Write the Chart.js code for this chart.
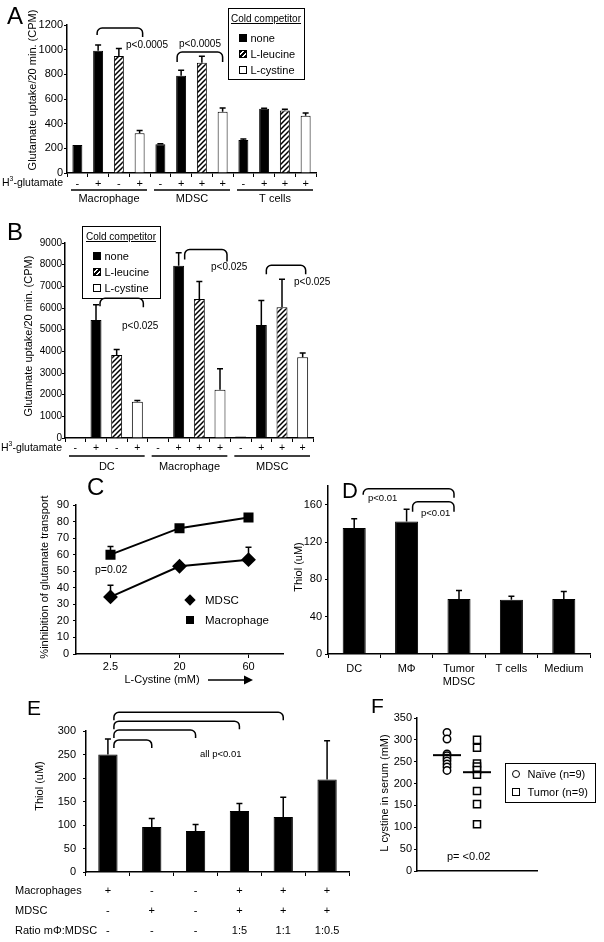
<!DOCTYPE html>
<html>
<head>
<meta charset="utf-8">
<title>Glutamate uptake, thiol release and serum cystine</title>
<script src="https://cdn.jsdelivr.net/npm/chart.js@4.4.1/dist/chart.umd.min.js"></script>
<style>
  body { margin: 0; background: #fff; }
  #page { position: relative; width: 604px; height: 942px; overflow: hidden;
          font-family: "Liberation Sans", Arial, sans-serif; color: #000; }
  #page canvas { position: absolute; }
  .letter { position: absolute; line-height: 1; }
  .box { position: absolute; border: 1.5px solid #000; box-sizing: border-box; }
  .box div, .key div { position: absolute; font-size: 11px; line-height: 12px; white-space: nowrap; }
  .box div.ttl { text-decoration: underline; text-align: center; font-size: 10px; }
  .sw { width: 8px; height: 8px; box-sizing: border-box; border: 1px solid #000; }
  .none { background: #000; }
  .leucine { background: repeating-linear-gradient(135deg, #000 0 1.5px, #fff 1.5px 3.5px); }
  .cystine { background: #fff; }
  .mark { box-sizing: border-box; }
</style>
</head>
<body>
<div id="page">
  <canvas id="chartA" width="320" height="210" style="left:0;top:0"></canvas>
  <canvas id="chartB" width="340" height="270" style="left:0;top:210px"></canvas>
  <canvas id="chartC" width="300" height="225" style="left:0;top:470px"></canvas>
  <canvas id="chartD" width="314" height="225" style="left:290px;top:470px"></canvas>
  <canvas id="chartE" width="360" height="247" style="left:0;top:695px"></canvas>
  <canvas id="chartF" width="244" height="247" style="left:360px;top:695px"></canvas>

  <div class="letter" style="left:7px;top:4px;font-size:24px">A</div>
  <div class="letter" style="left:7px;top:220px;font-size:24px">B</div>
  <div class="letter" style="left:87px;top:475px;font-size:24px">C</div>
  <div class="letter" style="left:342px;top:480px;font-size:22px">D</div>
  <div class="letter" style="left:27px;top:697px;font-size:21px">E</div>
  <div class="letter" style="left:371px;top:695px;font-size:21px">F</div>

  <div class="box" style="left:228px;top:8px;width:77px;height:72px">
    <div class="ttl" style="left:0;top:3.5px;width:74px">Cold competitor</div>
    <div class="sw none" style="left:9.5px;top:24.5px"></div><div style="left:21.5px;top:22.5px">none</div>
    <div class="sw leucine" style="left:9.5px;top:40.5px"></div><div style="left:21.5px;top:38.5px">L-leucine</div>
    <div class="sw cystine" style="left:9.5px;top:56.5px"></div><div style="left:21.5px;top:54.5px">L-cystine</div>
  </div>

  <div class="box" style="left:82px;top:226px;width:79px;height:73px">
    <div class="ttl" style="left:0;top:3.5px;width:76px">Cold competitor</div>
    <div class="sw none" style="left:9.5px;top:24.5px"></div><div style="left:21.5px;top:22.5px">none</div>
    <div class="sw leucine" style="left:9.5px;top:40.5px"></div><div style="left:21.5px;top:38.5px">L-leucine</div>
    <div class="sw cystine" style="left:9.5px;top:56.5px"></div><div style="left:21.5px;top:54.5px">L-cystine</div>
  </div>

  <div class="key">
    <div class="mark" style="left:186px;top:596px;width:8px;height:8px;background:#000;transform:rotate(45deg)"></div>
    <div style="left:205px;top:593px;font-size:11.5px;line-height:14px">MDSC</div>
    <div class="mark" style="left:186px;top:616px;width:8px;height:8px;background:#000"></div>
    <div style="left:205px;top:613px;font-size:11.5px;line-height:14px">Macrophage</div>
  </div>

  <div class="box" style="left:505px;top:763px;width:91px;height:40px">
    <div class="mark" style="left:5.5px;top:5.5px;width:8px;height:8px;border:1.5px solid #000;border-radius:50%"></div>
    <div style="left:21.5px;top:3.5px">Naïve (n=9)</div>
    <div class="mark" style="left:5.5px;top:23.5px;width:8px;height:8px;border:1.5px solid #000"></div>
    <div style="left:21.5px;top:21.5px">Tumor (n=9)</div>
  </div>
</div>

<script>
// ---- data ----
const A_groups = ["Macrophage", "MDSC", "T cells"];
const A_signs = ["-", "+", "-", "+", "-", "+", "+", "+", "-", "+", "+", "+"];
const A_competitor = ["none", "none", "leucine", "cystine", "none", "none", "leucine", "cystine", "none", "none", "leucine", "cystine"];
const A_uptake = [227, 992, 949, 322, 233, 788, 894, 497, 268, 520, 507, 465];
const A_err = [0, 45, 60, 22, 5, 45, 52, 30, 8, 6, 10, 22];

const B_groups = ["DC", "Macrophage", "MDSC"];
const B_signs = ["-", "+", "-", "+", "-", "+", "+", "+", "-", "+", "+", "+"];
const B_competitor = ["none", "none", "leucine", "cystine", "none", "none", "leucine", "cystine", "none", "none", "leucine", "cystine"];
const B_uptake = [50, 5450, 3830, 1670, 30, 7950, 6420, 2230, 70, 5220, 6030, 3730];
const B_err = [0, 700, 250, 60, 0, 600, 800, 970, 0, 1130, 1300, 190];

const C_cystine = ["2.5", "20", "60"];
const C_macrophage = [60, 76, 82.5];
const C_macrophageErr = [5, 0, 0];
const C_mdsc = [34.5, 53, 57];
const C_mdscErr = [7, 0, 7.5];

const D_cells = ["DC", "MΦ", ["Tumor", "MDSC"], "T cells", "Medium"];
const D_thiol = [135, 142, 59, 58, 59];
const D_err = [10, 13, 9, 4, 8];

const E_macrophages = ["+", "-", "-", "+", "+", "+"];
const E_mdsc = ["-", "+", "-", "+", "+", "+"];
const E_ratio = ["-", "-", "-", "1:5", "1:1", "1:0.5"];
const E_thiol = [250, 96, 87, 130, 117, 197];
const E_err = [33, 18, 14, 16, 42, 82];

const F_slots = ["", "Naïve", "Tumor", "", ""];
const F_naive = [317, 302, 268, 264, 258, 252, 245, 238, 230];
const F_tumor = [300, 282, 246, 239, 231, 220, 183, 153, 107];
const F_centre = [265, 226];

// ---- shared look ----
const FONT = '"Liberation Sans", Arial, sans-serif';
Chart.defaults.font.family = FONT;
Chart.defaults.font.size = 11;
Chart.defaults.color = "#000";
Chart.defaults.animation = false;
Chart.defaults.plugins.legend.display = false;
Chart.defaults.plugins.tooltip.enabled = false;

function hatch(canvas) {
  const tile = document.createElement("canvas");
  tile.width = 5;
  tile.height = 5;
  const g = tile.getContext("2d");
  g.fillStyle = "#fff";
  g.fillRect(0, 0, 5, 5);
  g.strokeStyle = "#000";
  g.lineWidth = 1.5;
  g.beginPath();
  g.moveTo(-1, 6); g.lineTo(6, -1);
  g.moveTo(-1, 1); g.lineTo(1, -1);
  g.moveTo(4, 6); g.lineTo(6, 4);
  g.stroke();
  return canvas.getContext("2d").createPattern(tile, "repeat");
}

function fills(canvas, competitor) {
  const stripes = hatch(canvas);
  return competitor.map((c) => (c === "none" ? "#000" : c === "leucine" ? stripes : "#fff"));
}

function yAxis(max, step, width, pad, size) {
  return {
    min: 0,
    max: max,
    ticks: {
      stepSize: step,
      padding: pad,
      font: { size: size },
      includeBounds: false,
      format: { useGrouping: false },
    },
    grid: { drawOnChartArea: false, tickLength: 3, color: "#000", lineWidth: 1 },
    border: { color: "#000", width: 1.5 },
    afterFit: (s) => { s.width = width; },
  };
}

function xAxis(height, pad, size, gridOffset) {
  return {
    offset: true,
    ticks: { padding: pad, maxRotation: 0, autoSkip: false, font: size },
    grid: { offset: gridOffset, drawOnChartArea: false, tickLength: 4, color: "#000", lineWidth: 1 },
    border: { color: "#000", width: 1.5 },
    afterFit: (s) => { s.height = height; },
  };
}

function label(ctx, text, x, y, size, align) {
  ctx.save();
  ctx.font = size + "px " + FONT;
  ctx.fillStyle = "#000";
  ctx.textAlign = align || "left";
  ctx.textBaseline = "middle";
  ctx.fillText(text, x, y);
  ctx.restore();
}

function sideTitle(ctx, text, x, y, size) {
  ctx.save();
  ctx.translate(x, y);
  ctx.rotate(-Math.PI / 2);
  label(ctx, text, 0, 0, size, "center");
  ctx.restore();
}

// "H3-glutamate" with a raised 3, right-aligned at xRight
function tracerLabel(ctx, xRight, y, size) {
  ctx.save();
  ctx.fillStyle = "#000";
  ctx.textBaseline = "middle";
  ctx.font = size + "px " + FONT;
  const wH = ctx.measureText("H").width;
  const wRest = ctx.measureText("-glutamate").width;
  ctx.font = size * 0.65 + "px " + FONT;
  const w3 = ctx.measureText("3").width;
  let x = xRight - wH - w3 - wRest;
  ctx.font = size + "px " + FONT;
  ctx.fillText("H", x, y);
  x += wH;
  ctx.font = size * 0.65 + "px " + FONT;
  ctx.fillText("3", x, y - size * 0.35);
  x += w3;
  ctx.font = size + "px " + FONT;
  ctx.fillText("-glutamate", x, y);
  ctx.restore();
}

function groupRules(chart, groups, yLine, yText) {
  const ctx = chart.ctx;
  const x = chart.scales.x;
  const n = chart.data.labels.length / groups.length;
  const half = (x.getPixelForValue(1) - x.getPixelForValue(0)) / 2;
  groups.forEach((name, k) => {
    const a = x.getPixelForValue(k * n) - half + 4;
    const b = x.getPixelForValue(k * n + n - 1) + half - 3;
    ctx.save();
    ctx.strokeStyle = "#000";
    ctx.lineWidth = 1.5;
    ctx.beginPath();
    ctx.moveTo(a, yLine);
    ctx.lineTo(b, yLine);
    ctx.stroke();
    ctx.restore();
    label(ctx, name, (a + b) / 2, yText, 11, "center");
  });
}

function errorBars(chart, errs, dsIndex) {
  const i0 = dsIndex || 0;
  const ctx = chart.ctx;
  const y = chart.scales.y;
  const values = chart.data.datasets[i0].data;
  ctx.save();
  ctx.strokeStyle = "#000";
  ctx.lineWidth = 1.5;
  chart.getDatasetMeta(i0).data.forEach((el, i) => {
    if (!errs[i]) return;
    const y0 = y.getPixelForValue(values[i]);
    const y1 = y.getPixelForValue(values[i] + errs[i]);
    ctx.beginPath();
    ctx.moveTo(el.x, y0);
    ctx.lineTo(el.x, y1);
    ctx.moveTo(el.x - 3, y1);
    ctx.lineTo(el.x + 3, y1);
    ctx.stroke();
  });
  ctx.restore();
}

function bracket(ctx, x1, x2, y, leftDrop, rightDrop) {
  const r = 5;
  ctx.save();
  ctx.strokeStyle = "#000";
  ctx.lineWidth = 1.5;
  ctx.beginPath();
  ctx.moveTo(x1, y + leftDrop);
  ctx.arcTo(x1, y, x1 + r, y, r);
  ctx.arcTo(x2, y, x2, y + r, r);
  ctx.lineTo(x2, y + rightDrop);
  ctx.stroke();
  ctx.restore();
}

// ---- A ----
const canvasA = document.getElementById("chartA");
new Chart(canvasA, {
  type: "bar",
  data: {
    labels: A_signs,
    datasets: [{
      data: A_uptake,
      backgroundColor: fills(canvasA, A_competitor),
      borderColor: "#000",
      borderWidth: 1,
      barPercentage: 0.48,
      categoryPercentage: 1,
    }],
  },
  options: {
    responsive: false,
    layout: { padding: { top: 25, right: 4, left: 0, bottom: 0 } },
    scales: { x: xAxis(37, 0, { size: 11 }, true), y: yAxis(1200, 200, 67, 1, 11) },
  },
  plugins: [{
    id: "decorA",
    afterDatasetsDraw: (chart) => errorBars(chart, A_err),
    afterDraw(chart) {
      const ctx = chart.ctx;
      const px = (i) => chart.scales.x.getPixelForValue(i);
      const py = (v) => chart.scales.y.getPixelForValue(v);
      sideTitle(ctx, "Glutamate uptake/20 min. (CPM)", 33, 90, 11);
      tracerLabel(ctx, 63, 183, 10.5);
      groupRules(chart, A_groups, 190, 199);
      bracket(ctx, px(1) - 1, px(3) + 3, py(1176), 7, 9);
      label(ctx, "p<0.0005", 126, 45, 10);
      bracket(ctx, px(5) - 4, px(7), py(981), 10, 10);
      label(ctx, "p<0.0005", 179, 44, 10);
    },
  }],
});

// ---- B ----
const canvasB = document.getElementById("chartB");
new Chart(canvasB, {
  type: "bar",
  data: {
    labels: B_signs,
    datasets: [{
      data: B_uptake,
      backgroundColor: fills(canvasB, B_competitor),
      borderColor: "#000",
      borderWidth: 1,
      barPercentage: 0.53,
      categoryPercentage: 1,
    }],
  },
  options: {
    responsive: false,
    layout: { padding: { top: 33, right: 27, left: 0, bottom: 0 } },
    scales: { x: xAxis(42, 0, { size: 10.5 }, true), y: yAxis(9000, 1000, 65, 0, 10) },
  },
  plugins: [{
    id: "decorB",
    afterDatasetsDraw: (chart) => errorBars(chart, B_err),
    afterDraw(chart) {
      const ctx = chart.ctx;
      const px = (i) => chart.scales.x.getPixelForValue(i);
      const py = (v) => chart.scales.y.getPixelForValue(v);
      sideTitle(ctx, "Glutamate uptake/20 min. (CPM)", 29, 126, 11);
      tracerLabel(ctx, 62, 238, 10.5);
      groupRules(chart, B_groups, 246, 257);
      bracket(ctx, px(1) + 4, px(3) + 6, py(6448), 8, 9);
      label(ctx, "p<0.025", 122, 116, 10);
      bracket(ctx, px(5) + 6, px(7) + 7, py(8700), 10, 12);
      label(ctx, "p<0.025", 211, 57, 10);
      bracket(ctx, px(9) + 5, px(11) + 3, py(7970), 9, 9);
      label(ctx, "p<0.025", 294, 72, 10);
    },
  }],
});

// ---- C ----
new Chart(document.getElementById("chartC"), {
  type: "line",
  data: {
    labels: C_cystine,
    datasets: [
      {
        label: "Macrophage",
        data: C_macrophage,
        pointStyle: "rect",
        pointRadius: 5.7,
        pointBackgroundColor: "#000",
        pointBorderColor: "#000",
        borderColor: "#000",
        borderWidth: 2,
      },
      {
        label: "MDSC",
        data: C_mdsc,
        pointStyle: "rectRot",
        pointRadius: 6,
        pointBackgroundColor: "#000",
        pointBorderColor: "#000",
        borderColor: "#000",
        borderWidth: 2,
      },
    ],
  },
  options: {
    responsive: false,
    layout: { padding: { top: 35, right: 17, left: 0, bottom: 0 } },
    scales: { x: xAxis(41, 2, { size: 11 }, false), y: yAxis(90, 10, 76, 4, 11) },
  },
  plugins: [{
    id: "decorC",
    afterDatasetsDraw(chart) {
      errorBars(chart, C_macrophageErr, 0);
      errorBars(chart, C_mdscErr, 1);
    },
    afterDraw(chart) {
      const ctx = chart.ctx;
      sideTitle(ctx, "%inhibition of glutamate transport", 45, 107, 11);
      label(ctx, "p=0.02", 95, 100, 10.5);
      label(ctx, "L-Cystine (mM)", 162, 210, 11, "center");
      ctx.save();
      ctx.strokeStyle = "#000";
      ctx.fillStyle = "#000";
      ctx.lineWidth = 1.5;
      ctx.beginPath();
      ctx.moveTo(208, 210);
      ctx.lineTo(246, 210);
      ctx.stroke();
      ctx.beginPath();
      ctx.moveTo(244, 205.5);
      ctx.lineTo(253, 210);
      ctx.lineTo(244, 214.5);
      ctx.closePath();
      ctx.fill();
      ctx.restore();
    },
  }],
});

// ---- D ----
new Chart(document.getElementById("chartD"), {
  type: "bar",
  data: {
    labels: D_cells,
    datasets: [{
      data: D_thiol,
      backgroundColor: "#000",
      borderColor: "#000",
      borderWidth: 1,
      barPercentage: 0.44,
      categoryPercentage: 1,
    }],
  },
  options: {
    responsive: false,
    layout: { padding: { top: 16, right: 14, left: 0, bottom: 0 } },
    scales: { x: xAxis(41, 4, { size: 11 }, true), y: yAxis(180, 40, 38, 3, 11) },
  },
  plugins: [{
    id: "decorD",
    afterDatasetsDraw: (chart) => errorBars(chart, D_err),
    afterDraw(chart) {
      const ctx = chart.ctx;
      const px = (i) => chart.scales.x.getPixelForValue(i);
      const py = (v) => chart.scales.y.getPixelForValue(v);
      sideTitle(ctx, "Thiol (uM)", 9, 97, 11);
      bracket(ctx, px(0) + 9, px(2) - 5, py(177), 6, 9);
      label(ctx, "p<0.01", 78, 28, 9.5);
      bracket(ctx, px(1) + 6, px(2) - 5, py(163), 10, 10);
      label(ctx, "p<0.01", 131, 43, 9.5);
    },
  }],
});

// ---- E ----
const E_brackets = [281, 302, 321, 340];
new Chart(document.getElementById("chartE"), {
  type: "bar",
  data: {
    labels: E_macrophages.map((m, i) => [m, E_mdsc[i], E_ratio[i]]),
    datasets: [{
      data: E_thiol,
      backgroundColor: "#000",
      borderColor: "#000",
      borderWidth: 1,
      barPercentage: 0.44,
      categoryPercentage: 1,
    }],
  },
  options: {
    responsive: false,
    layout: { padding: { top: 36, right: 11, left: 0, bottom: 0 } },
    scales: { x: xAxis(70, 5, { size: 11, lineHeight: "20px" }, true), y: yAxis(300, 50, 86, 7, 11) },
  },
  plugins: [{
    id: "decorE",
    afterDatasetsDraw: (chart) => errorBars(chart, E_err),
    afterDraw(chart) {
      const ctx = chart.ctx;
      const px = (i) => chart.scales.x.getPixelForValue(i);
      const py = (v) => chart.scales.y.getPixelForValue(v);
      sideTitle(ctx, "Thiol (uM)", 40, 91, 11);
      label(ctx, "Macrophages", 15, 196, 11);
      label(ctx, "MDSC", 15, 216, 11);
      label(ctx, "Ratio mΦ:MDSC", 15, 236, 11);
      E_brackets.forEach((top, k) => bracket(ctx, px(0) + 6, px(k + 1), py(top), 8, 8));
      label(ctx, "all p<0.01", 200, 59, 9.5);
    },
  }],
});

// ---- F ----
new Chart(document.getElementById("chartF"), {
  type: "scatter",
  data: {
    datasets: [
      {
        data: F_centre.map((v, i) => ({ x: F_slots[i + 1], y: v })),
        pointStyle: "line",
        pointRadius: 14,
        borderColor: "#000",
        borderWidth: 2,
        order: 0,
      },
      {
        data: F_naive.map((v) => ({ x: "Naïve", y: v })),
        pointStyle: "circle",
        pointRadius: 3.7,
        backgroundColor: "#fff",
        borderColor: "#000",
        borderWidth: 1.5,
        order: 1,
      },
      {
        data: F_tumor.map((v) => ({ x: "Tumor", y: v })),
        pointStyle: "rect",
        pointRadius: 5,
        backgroundColor: "#fff",
        borderColor: "#000",
        borderWidth: 1.5,
        order: 1,
      },
    ],
  },
  options: {
    responsive: false,
    layout: { padding: { top: 23, right: 67, left: 0, bottom: 0 } },
    scales: {
      x: {
        type: "category",
        labels: F_slots,
        offset: false,
        ticks: { display: false },
        grid: { display: false },
        border: { color: "#000", width: 1.5 },
        afterFit: (s) => { s.height = 71; },
      },
      y: yAxis(350, 50, 57, 2, 11),
    },
  },
  plugins: [{
    id: "decorF",
    afterDraw(chart) {
      const ctx = chart.ctx;
      sideTitle(ctx, "L cystine in serum (mM)", 25, 98, 11);
      label(ctx, "p= <0.02", 87, 162, 11);
    },
  }],
});
</script>
</body>
</html>
